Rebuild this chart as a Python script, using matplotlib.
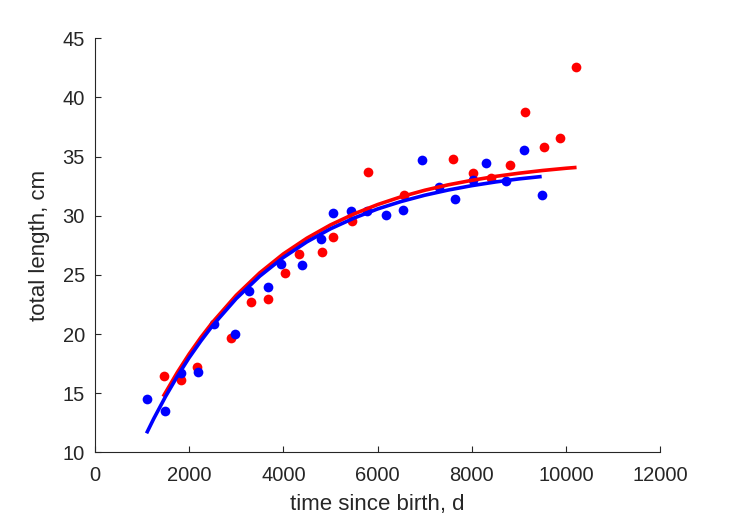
import matplotlib
matplotlib.use("Agg")
import matplotlib.pyplot as plt

# observed data: time since birth (d), total length (cm)
t_blue = [1098, 1494, 1820, 2194, 2521, 2974, 3271, 3668, 3944, 4390, 4794, 5061,
          5437, 5783, 6181, 6530, 6937, 7307, 7646, 8021, 8298, 8716, 9098, 9494]
L_blue = [14.50, 13.51, 16.69, 16.83, 20.82, 20.03, 23.65, 24.01, 25.89, 25.87, 28.06, 30.22,
          30.41, 30.44, 30.08, 30.50, 34.73, 32.40, 31.40, 32.99, 34.50, 32.93, 35.59, 31.79]

t_red = [1466, 1827, 2173, 2882, 3313, 3668, 4042, 4340, 4822, 5061, 5465, 5805,
         6570, 7597, 8029, 8404, 8800, 9125, 9528, 9877, 10217]
L_red = [16.48, 16.13, 17.19, 19.66, 22.68, 22.98, 25.20, 26.76, 26.97, 28.20, 29.59, 33.71,
         31.77, 34.84, 33.61, 33.23, 34.26, 38.78, 35.80, 36.56, 42.56]

# fitted curves
tc_blue = [1098, 1250, 1500, 1750, 2000, 2250, 2500, 3000, 3500, 4000, 4500, 5000, 5500,
           6000, 6500, 7000, 7500, 8000, 8500, 9000, 9480]
Lc_blue = [11.62, 12.85, 14.72, 16.43, 18.00, 19.42, 20.73, 23.00, 24.90, 26.48, 27.80, 28.90, 29.81,
           30.58, 31.21, 31.74, 32.18, 32.55, 32.86, 33.12, 33.32]

tc_red = [1450, 1750, 2000, 2250, 2500, 3000, 3500, 4000, 4500, 5000, 5500, 6000, 6500,
          7000, 7500, 8000, 8500, 9000, 9500, 10000, 10220]
Lc_red = [14.72, 16.76, 18.31, 19.72, 21.01, 23.28, 25.18, 26.78, 28.11, 29.23, 30.16, 30.95, 31.61,
          32.16, 32.62, 33.00, 33.33, 33.60, 33.83, 34.02, 34.09]

x_ticks = [0, 2000, 4000, 6000, 8000, 10000, 12000]
y_ticks = [10, 15, 20, 25, 30, 35, 40, 45]

plt.rcParams['font.family'] = ['Liberation Sans', 'DejaVu Sans']
dark = (0.15, 0.15, 0.15)

fig = plt.figure(figsize=(7.29, 5.21), dpi=100)
ax = fig.add_axes([0.130, 0.1315, 0.776, 0.795])

ax.plot(t_red, L_red, 'o', color=(1, 0, 0), markersize=7, markeredgewidth=0, zorder=2)
ax.plot(t_blue, L_blue, 'o', color=(0, 0, 1), markersize=7, markeredgewidth=0, zorder=2)
ax.plot(tc_red, Lc_red, '-', color=(1, 0, 0), linewidth=2.6, solid_capstyle='butt', zorder=3)
ax.plot(tc_blue, Lc_blue, '-', color=(0, 0, 1), linewidth=2.6, solid_capstyle='butt', zorder=4)

ax.set_xlim(0, 12000)
ax.set_ylim(10, 45)
ax.set_xticks(x_ticks)
ax.set_yticks(y_ticks)
ax.set_xticklabels([str(v) for v in x_ticks])
ax.set_yticklabels([str(v) for v in y_ticks])

for side in ['top', 'right']:
    ax.spines[side].set_visible(False)
for side in ['left', 'bottom']:
    ax.spines[side].set_color(dark)
    ax.spines[side].set_linewidth(0.8)

ax.tick_params(direction='in', length=4.5, width=0.8, color=dark, labelcolor=dark,
               labelsize=14.5)
ax.tick_params(axis='x', pad=10)
ax.tick_params(axis='y', pad=7)
ax.set_xlabel('time since birth, d', fontsize=16, color=dark, labelpad=6)
ax.set_ylabel('total length, cm', fontsize=16, color=dark, labelpad=9)

fig.savefig('out.png', dpi=100)
